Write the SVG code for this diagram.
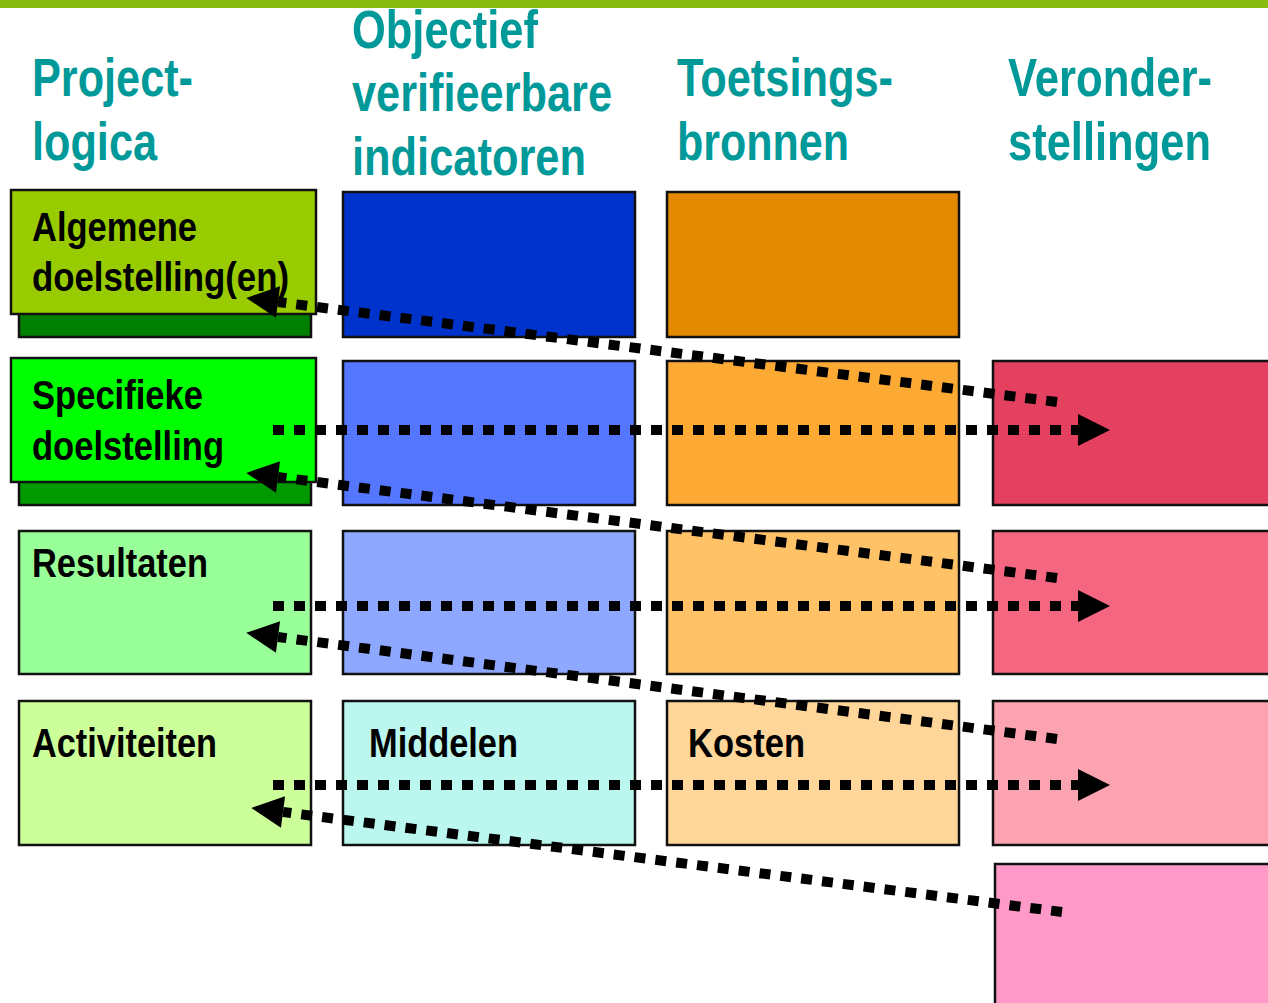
<svg xmlns="http://www.w3.org/2000/svg" width="1268" height="1003" viewBox="0 0 1268 1003">
<style>
.hdr{font-family:"Liberation Sans",Arial,sans-serif;font-weight:bold;font-size:53px;fill:#009999}
.lbl{font-family:"Liberation Sans",Arial,sans-serif;font-weight:bold;font-size:41px;fill:#000}
.box{stroke:#111;stroke-width:2.5}
.dot{fill:none;stroke:#000;stroke-width:10;stroke-dasharray:11 10}
</style>
<defs>
<marker id="ah" markerUnits="userSpaceOnUse" markerWidth="33" markerHeight="33" refX="0" refY="16" orient="auto" overflow="visible">
<path d="M0,0 L32,16 L0,32 z" fill="#000"/>
</marker>
</defs>
<rect x="0" y="0" width="1268" height="8" fill="#8ABB0F"/>
<g id="headers">
<text class="hdr" x="32" y="96" textLength="161" lengthAdjust="spacingAndGlyphs">Project-</text>
<text class="hdr" x="32" y="160" textLength="125" lengthAdjust="spacingAndGlyphs">logica</text>
<text class="hdr" x="352" y="48" textLength="186" lengthAdjust="spacingAndGlyphs">Objectief</text>
<text class="hdr" x="352" y="111" textLength="260" lengthAdjust="spacingAndGlyphs">verifieerbare</text>
<text class="hdr" x="352" y="175" textLength="234" lengthAdjust="spacingAndGlyphs">indicatoren</text>
<text class="hdr" x="677" y="96" textLength="216" lengthAdjust="spacingAndGlyphs">Toetsings-</text>
<text class="hdr" x="677" y="160" textLength="172" lengthAdjust="spacingAndGlyphs">bronnen</text>
<text class="hdr" x="1008" y="96" textLength="204" lengthAdjust="spacingAndGlyphs">Veronder-</text>
<text class="hdr" x="1008" y="160" textLength="203" lengthAdjust="spacingAndGlyphs">stellingen</text>
</g>
<g id="n-algemene">
<rect class="box" x="19" y="312" width="292" height="25" fill="#007F00"/>
<rect class="box" x="11" y="190" width="305" height="124" fill="#99CC00"/>
<text class="lbl" x="32" y="241" textLength="165" lengthAdjust="spacingAndGlyphs">Algemene</text>
<text class="lbl" x="32" y="291" textLength="257" lengthAdjust="spacingAndGlyphs">doelstelling(en)</text>
</g>
<g id="n-specifieke">
<rect class="box" x="19" y="480" width="292" height="25" fill="#009900"/>
<rect class="box" x="11" y="358" width="305" height="124" fill="#00FF00"/>
<text class="lbl" x="32" y="409" textLength="171" lengthAdjust="spacingAndGlyphs">Specifieke</text>
<text class="lbl" x="32" y="460" textLength="192" lengthAdjust="spacingAndGlyphs">doelstelling</text>
</g>
<g id="n-resultaten">
<rect class="box" x="19" y="531" width="292" height="143" fill="#99FF99"/>
<text class="lbl" x="32" y="577" textLength="176" lengthAdjust="spacingAndGlyphs">Resultaten</text>
</g>
<g id="n-activiteiten">
<rect class="box" x="19" y="701" width="292" height="144" fill="#CCFF99"/>
<text class="lbl" x="32" y="757" textLength="185" lengthAdjust="spacingAndGlyphs">Activiteiten</text>
</g>
<g id="n-ovi-1"><rect class="box" x="343" y="192" width="292" height="145" fill="#0033CC"/></g>
<g id="n-ovi-2"><rect class="box" x="343" y="361" width="292" height="144" fill="#5577FF"/></g>
<g id="n-ovi-3"><rect class="box" x="343" y="531" width="292" height="143" fill="#8FA8FF"/></g>
<g id="n-middelen"><rect class="box" x="343" y="701" width="292" height="144" fill="#BBF7EE"/>
<text class="lbl" x="369" y="757" textLength="149" lengthAdjust="spacingAndGlyphs">Middelen</text></g>
<g id="n-tb-1"><rect class="box" x="667" y="192" width="292" height="145" fill="#E38A00"/></g>
<g id="n-tb-2"><rect class="box" x="667" y="361" width="292" height="144" fill="#FDAA35"/></g>
<g id="n-tb-3"><rect class="box" x="667" y="531" width="292" height="143" fill="#FFC266"/></g>
<g id="n-kosten"><rect class="box" x="667" y="701" width="292" height="144" fill="#FFD699"/>
<text class="lbl" x="688" y="757" textLength="117" lengthAdjust="spacingAndGlyphs">Kosten</text></g>
<g id="n-v-1"><rect class="box" x="993" y="361" width="290" height="144" fill="#E4405F"/></g>
<g id="n-v-2"><rect class="box" x="993" y="531" width="290" height="143" fill="#F56680"/></g>
<g id="n-v-3"><rect class="box" x="993" y="701" width="290" height="144" fill="#FCA3B2"/></g>
<g id="n-v-4"><rect class="box" x="995" y="864" width="290" height="160" fill="#FF99C8"/></g>
<g id="connectors">
<path class="dot" d="M1057,402 L278,302" marker-end="url(#ah)"/>
<path class="dot" d="M273,430 L1078,430" marker-end="url(#ah)"/>
<path class="dot" d="M1057,578 L278,477" marker-end="url(#ah)"/>
<path class="dot" d="M273,606 L1078,606" marker-end="url(#ah)"/>
<path class="dot" d="M1057,739 L278,637" marker-end="url(#ah)"/>
<path class="dot" d="M273,785 L1078,785" marker-end="url(#ah)"/>
<path class="dot" d="M1062,912 L283,812" marker-end="url(#ah)"/>
</g>
</svg>
